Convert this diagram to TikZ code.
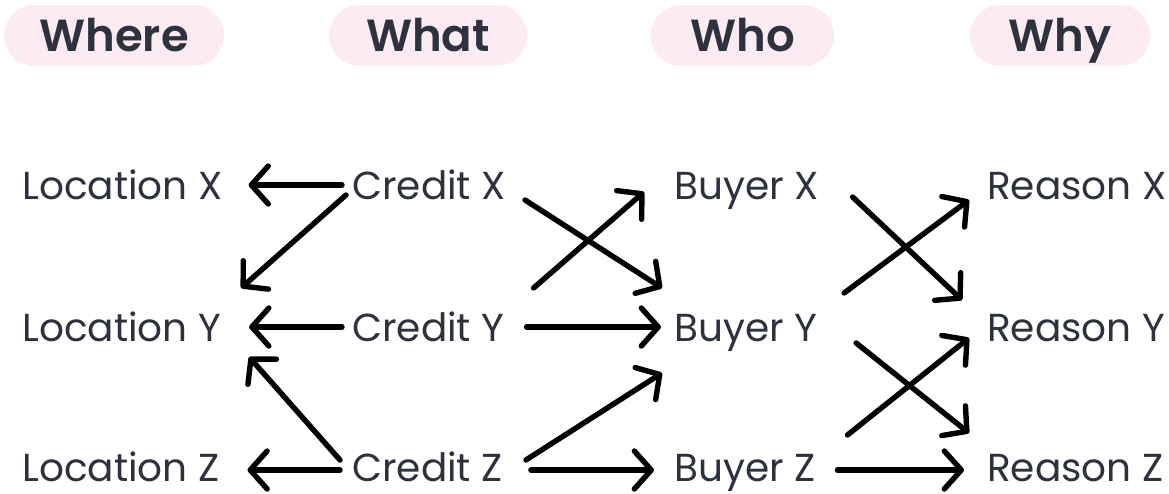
\documentclass[tikz,border=0pt]{standalone}
\usepackage{fontspec}
\setmainfont{Poppins}[BoldFont={Poppins SemiBold}]
\usetikzlibrary{arrows.meta}
\definecolor{ink}{RGB}{46,50,62}
\definecolor{pill}{RGB}{253,235,243}
\tikzset{
  header/.style={fill=pill, rounded corners=30.5pt, minimum height=61pt,
    inner sep=0pt, text=ink, font=\fontsize{45}{45}\selectfont\bfseries,
    text height=32pt, text depth=0pt},
  item/.style={anchor=west, inner sep=0pt, text=ink,
    font=\fontsize{39}{39}\selectfont, text height=27pt, text depth=0pt},
  link/.style={draw=black, line width=5.4pt, line cap=round,
    -{Straight Barb[length=17pt,width=38pt,line cap=round,line join=round]}},
}
\begin{document}
\begin{tikzpicture}[x=1pt,y=-1pt]
\useasboundingbox[fill=white] (0,0) rectangle (1169,494);

% column headers
\node[header, minimum width=220pt] (hwhere) at (114,35.5) {Where};
\node[header, minimum width=198pt] (hwhat)  at (428,35.5) {What};
\node[header, minimum width=183pt] (hwho)   at (742.5,35.5) {Who};
\node[header, minimum width=180pt] (hwhy)   at (1060,35.5) {Why};

% items
\node[item] (lx) at (22,186) {Location X};
\node[item] (ly) at (22,328) {Location Y};
\node[item] (lz) at (22,468) {Location Z};
\node[item] (cx) at (352,186) {Credit X};
\node[item] (cy) at (352,328) {Credit Y};
\node[item] (cz) at (352,468) {Credit Z};
\node[item] (bx) at (674,186) {Buyer X};
\node[item] (by) at (674,328) {Buyer Y};
\node[item] (bz) at (674,468) {Buyer Z};
\node[item] (rx) at (987,186) {Reason X};
\node[item] (ry) at (987,328) {Reason Y};
\node[item] (rz) at (987,468) {Reason Z};

% credit -> location
\draw[link] ([shift={(-10,-1)}]cx.west) -- ([shift={(26,-1)}]lx.east);
\draw[link] ([shift={(-6,9)}]cx.west) -- ([shift={(20,-40)}]ly.east);
\draw[link] ([shift={(-10,-1)}]cy.west) -- ([shift={(28,-1)}]ly.east);
\draw[link] ([shift={(-12,-8)}]cz.west) -- ([shift={(28,29)}]ly.east);
\draw[link] ([shift={(-12,2)}]cz.west) -- ([shift={(28,2)}]lz.east);

% credit -> buyer
\draw[link] ([shift={(19,14)}]cx.east) -- ([shift={(-12,-40)}]by.west);
\draw[link] ([shift={(29,-40)}]cy.east) -- ([shift={(-30,6)}]bx.west);
\draw[link] ([shift={(22,-1)}]cy.east) -- ([shift={(-13,-1)}]by.west);
\draw[link] ([shift={(23,-8)}]cz.east) -- ([shift={(-12,45)}]by.west);
\draw[link] ([shift={(28,2)}]cz.east) -- ([shift={(-20,2)}]bz.west);

% buyer -> reason
\draw[link] ([shift={(34,11)}]bx.east) -- ([shift={(-25,-28)}]ry.west);
\draw[link] ([shift={(27,-35)}]by.east) -- ([shift={(-18,14)}]rx.west);
\draw[link] ([shift={(39,15)}]by.east) -- ([shift={(-18,-35)}]rz.west);
\draw[link] ([shift={(32,-33)}]bz.east) -- ([shift={(-18,10)}]ry.west);
\draw[link] ([shift={(22,2)}]bz.east) -- ([shift={(-23,2)}]rz.west);
\end{tikzpicture}
\end{document}
